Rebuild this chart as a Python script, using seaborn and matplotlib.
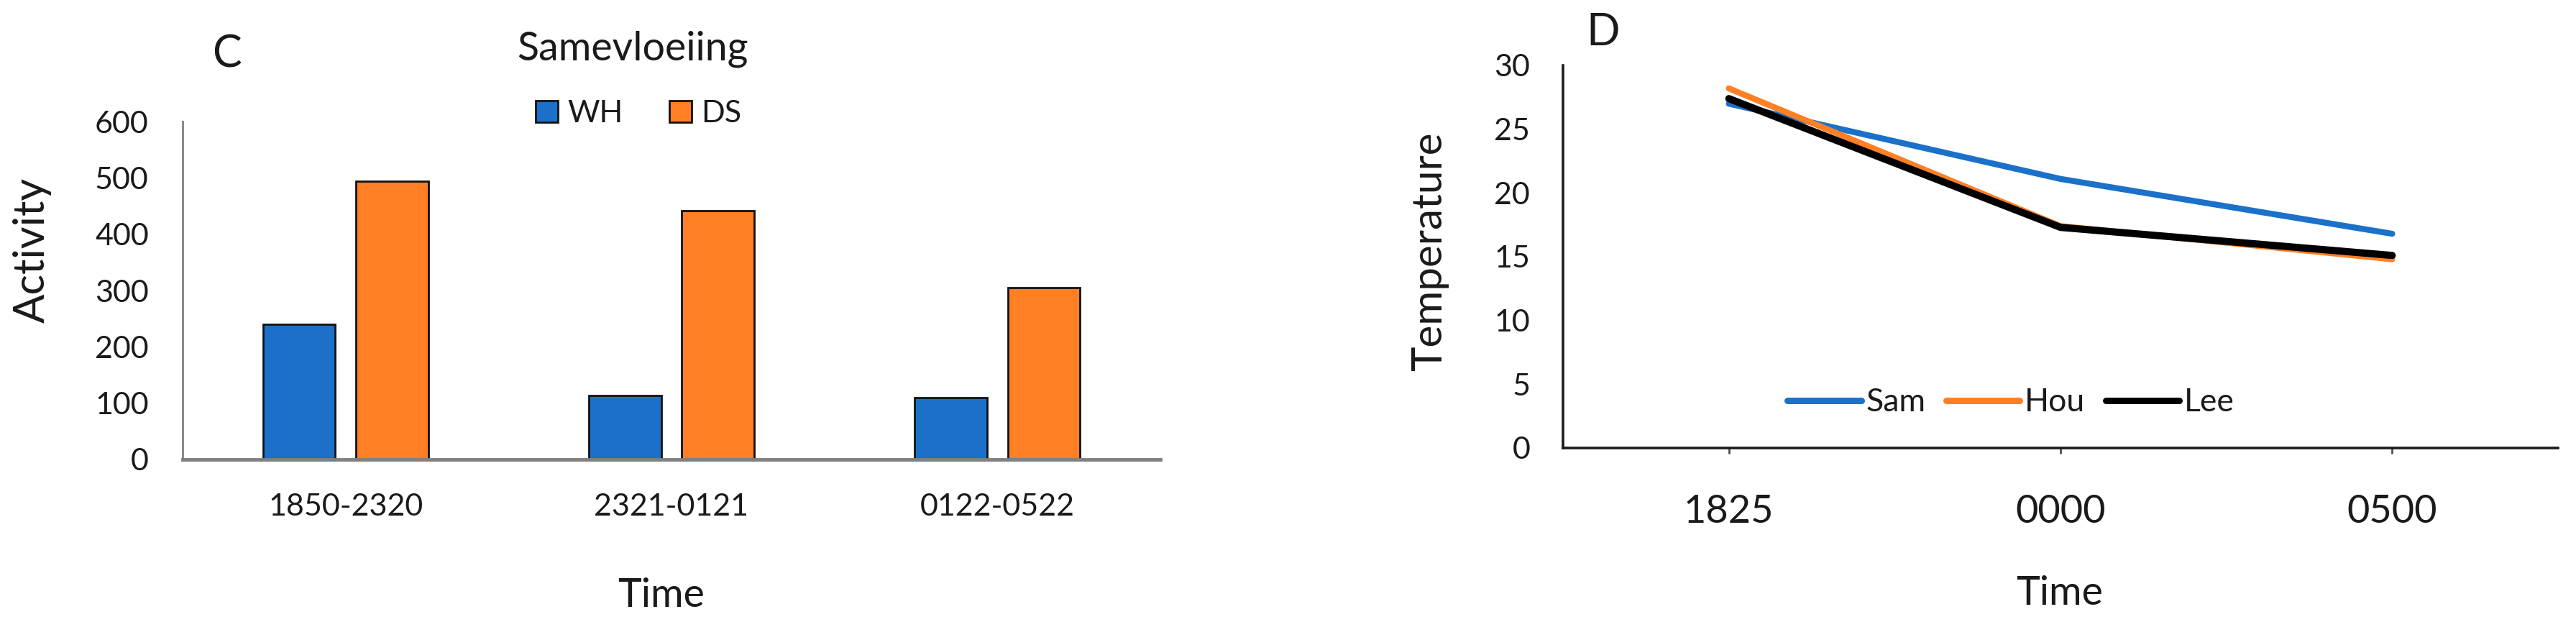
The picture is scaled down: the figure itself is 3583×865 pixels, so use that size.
import matplotlib
matplotlib.use("Agg")
import matplotlib.pyplot as plt
import seaborn as sns
import pandas as pd

# ---- data ----
time_bins = ["1850-2320", "2321-0121", "0122-0522"]
wh_activity = [240, 113, 110]
ds_activity = [494, 442, 305]
bar_groups = ["WH", "DS"]

time_points = ["1825", "0000", "0500"]
sam_temp = [27.0, 21.1, 16.8]
hou_temp = [28.2, 17.4, 14.8]
lee_temp = [27.4, 17.3, 15.1]
line_series = ["Sam", "Hou", "Lee"]

activity_ticks = [0, 100, 200, 300, 400, 500, 600]
temp_ticks = [0, 5, 10, 15, 20, 25, 30]

BLUE = "#1B71C9"
ORANGE = "#FF7F24"

sns.set_theme(style="white")
plt.rcParams["font.family"] = ["Lato", "DejaVu Sans"]
plt.rcParams["text.color"] = "#1a1a1a"

W, H = 3583, 865
fig = plt.figure(figsize=(W / 100, H / 100), dpi=100)

def px_axes(l, r, top, bottom):
    return fig.add_axes([l / W, 1 - bottom / H, (r - l) / W, (bottom - top) / H])

# ---------------- Panel C ----------------
axC = px_axes(254, 1614, 169, 639)
dfC = pd.DataFrame({
    "Time": time_bins * 2,
    "Activity": wh_activity + ds_activity,
    "group": [bar_groups[0]] * 3 + [bar_groups[1]] * 3,
})
sns.barplot(data=dfC, x="Time", y="Activity", hue="group", hue_order=bar_groups,
            palette=[BLUE, ORANGE], saturation=1, width=0.57, gap=0.22, edgecolor="#111111",
            linewidth=2, ax=axC, legend=True, errorbar=None)
axC.set_xlim(-0.5, 2.5)
axC.set_ylim(0, 600)
axC.set_yticks(activity_ticks)
axC.set_yticklabels([str(t) for t in activity_ticks])
axC.set_xlabel("")
axC.set_ylabel("")
for s in ["top", "right"]:
    axC.spines[s].set_visible(False)
axC.spines["left"].set_color("#8a8a8a")
axC.spines["left"].set_linewidth(2.2)
axC.spines["bottom"].set_color("#808080")
axC.spines["bottom"].set_linewidth(3.5)
axC.tick_params(axis="y", length=0, pad=34, labelsize=31, labelcolor="#1a1a1a")
axC.tick_params(axis="x", length=0, pad=34, labelsize=31, labelcolor="#1a1a1a")
hC, lC = axC.get_legend_handles_labels()
axC.legend(hC, lC, ncol=2, frameon=False, fontsize=31,
           loc="center", bbox_to_anchor=(888 / W, 1 - 158 / H), bbox_transform=fig.transFigure,
           handlelength=0.72, handleheight=0.72, handletextpad=0.3, columnspacing=1.5)

fig.text(316 / W, 1 - 94 / H, "C", fontsize=44, ha="center", va="baseline")
fig.text(880 / W, 1 - 83 / H, "Samevloeiing", fontsize=40, ha="center", va="baseline")
fig.text(920 / W, 1 - 844 / H, "Time", fontsize=40, ha="center", va="baseline")
fig.text(62 / W, 1 - 348 / H, "Activity", fontsize=43, ha="center", va="baseline",
         rotation=90, rotation_mode="anchor")

# ---------------- Panel D ----------------
axD = px_axes(2174, 3558, 91, 623)
dfD = pd.DataFrame({
    "Time": time_points * 3,
    "Temperature": sam_temp + hou_temp + lee_temp,
    "site": [line_series[0]] * 3 + [line_series[1]] * 3 + [line_series[2]] * 3,
})
sns.lineplot(data=dfD, x="Time", y="Temperature", hue="site", hue_order=line_series,
             palette=[BLUE, ORANGE, "#000000"], linewidth=6, sort=False, ax=axD,
             legend=True, errorbar=None)
axD.lines[2].set_linewidth(7.2)
axD.set_xlim(-0.5, 2.5)
axD.set_ylim(0, 30)
axD.set_yticks(temp_ticks)
axD.set_yticklabels([str(t) for t in temp_ticks])
axD.set_xlabel("")
axD.set_ylabel("")
for s in ["top", "right"]:
    axD.spines[s].set_visible(False)
for s in ["left", "bottom"]:
    axD.spines[s].set_color("#1a1a1a")
    axD.spines[s].set_linewidth(2.6)
axD.tick_params(axis="y", length=0, pad=33, labelsize=31, labelcolor="#1a1a1a")
axD.tick_params(axis="x", bottom=True, direction="out", length=6, width=2,
                color="#4d4d4d", pad=40, labelsize=39, labelcolor="#1a1a1a")
hD, lD = axD.get_legend_handles_labels()
legD = axD.legend(hD, lD, ncol=3, frameon=False, fontsize=32,
                  loc="center", bbox_to_anchor=(2797 / W, 1 - 560 / H), bbox_transform=fig.transFigure,
                  handlelength=2.3, handletextpad=0.15, columnspacing=0.65)
for ln in legD.get_lines():
    ln.set_linewidth(6.5)

fig.text(2230 / W, 1 - 63 / H, "D", fontsize=44, ha="center", va="baseline")
fig.text(2865 / W, 1 - 841 / H, "Time", fontsize=40, ha="center", va="baseline")
fig.text(2005 / W, 1 - 350 / H, "Temperature", fontsize=42, ha="center", va="baseline",
         rotation=90, rotation_mode="anchor")

fig.savefig("out.png", dpi=100, facecolor="white")
